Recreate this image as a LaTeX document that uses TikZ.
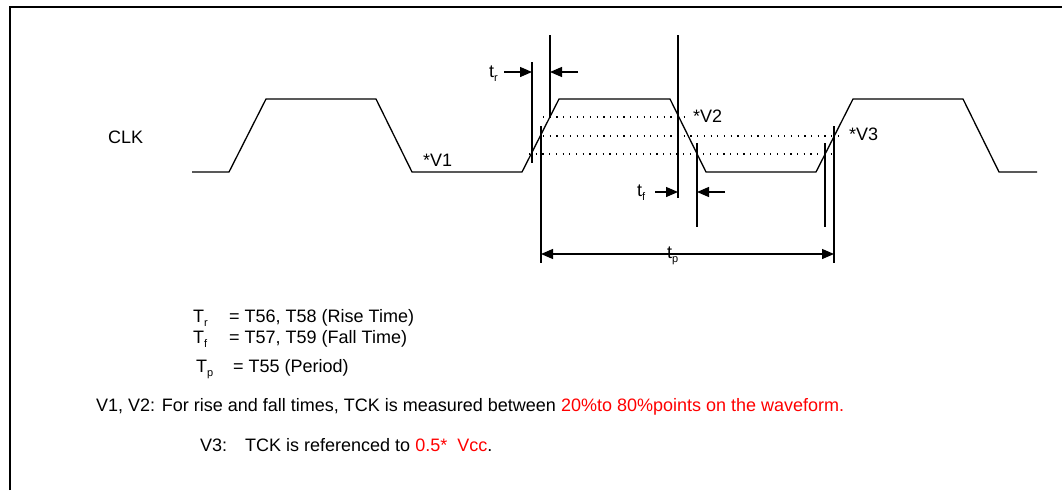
\documentclass[tikz,border=0pt]{standalone}
\usepackage{fontspec}
\setmainfont{Liberation Sans}
\usetikzlibrary{arrows.meta,positioning,calc}
\definecolor{tdRed}{HTML}{FF0000}
\newcommand{\lowsub}[1]{\raisebox{-4pt}{\fontsize{11}{11}\selectfont #1}}
\tikzset{
  wave/.style={line width=1.3pt, line join=miter},
  lvl/.style={line width=1.2pt, dash pattern=on 1.2pt off 5.5pt},
  vln/.style={line width=1.2pt},
  dim/.style={-{Triangle[length=12pt,width=10pt]}, line width=1.3pt},
  dimd/.style={{Triangle[length=12pt,width=10pt]}-{Triangle[length=12pt,width=10pt]}, line width=1.3pt},
  lbl/.style={font=\fontsize{18}{20}\selectfont, inner sep=0pt, anchor=base west},
}

\begin{document}
\begin{tikzpicture}[x=1pt, y=-1pt]
\useasboundingbox (0,0) rectangle (1062,490);
% frame
\draw[line width=2pt] (10.2,490) -- (10.2,6.5) -- (1062,6.5);

% clock
\node[lbl] (clk) at (108,143) {CLK};
\draw[wave] (192,172) -- (229,172) -- (266,99) -- (376,99) -- (412,172) -- (522,172)
  -- (559,99) -- (670,99) -- (706,172) -- (816,172) -- (853,99) -- (963,99)
  -- (999,172) -- (1037,172);

% levels 80/50/20
\draw[lvl] (543,117) -- (690,117);
\draw[lvl] (543,136) -- (842,136);
\draw[lvl] (529,154) -- (835,154);
\node[lbl] (v1) at (423,166) {*V1};
\node[lbl] (v2) at (693,122) {*V2};
\node[lbl] (v3) at (849,140) {*V3};

% marker lines
\coordinate (r20t) at (532,62);  \coordinate (r20b) at (532,163);
\coordinate (r80t) at (550,35);  \coordinate (r80b) at (550,117);
\coordinate (p1t) at (541,126);  \coordinate (p1b) at (541,263);
\coordinate (f80t) at (678,35);  \coordinate (f80b) at (678,198);
\coordinate (f20t) at (697,143); \coordinate (f20b) at (697,227);
\coordinate (n20t) at (825,143); \coordinate (n20b) at (825,227);
\coordinate (p2t) at (834,126);  \coordinate (p2b) at (834,263);
\foreach \a in {r20,r80,p1,f80,f20,n20,p2}
  \draw[vln] (\a t) -- (\a b);

% dimension arrows
\coordinate (trA) at (504,72); \coordinate (trB) at (578,72);
\coordinate (tfA) at (655,192); \coordinate (tfB) at (725,192);
\coordinate (tpy) at (0,254);
\draw[dim] (trA) -- (trA -| r20t);
\draw[dim] (trB) -- (trB -| r80t);
\draw[dim] (tfA) -- (tfA -| f80t);
\draw[dim] (tfB) -- (tfB -| f20t);
\draw[dimd] (p1t |- tpy) -- (p2t |- tpy);
\node[lbl] (trlab) at (489,77) {t\lowsub{r}};
\node[lbl] (tflab) at (637,196) {t\lowsub{f}};
\node[lbl] (tplab) at (667,258) {t\lowsub{p}};

% legend
\node[lbl] (Tr) at (193,322) {T\lowsub{r}};
\node[lbl] (Trv) at (229,322) {= T56, T58 (Rise Time)};
\node[lbl] (Tf) at (193,343) {T\lowsub{f}};
\node[lbl] (Tfv) at (229,343) {= T57, T59 (Fall Time)};
\node[lbl] (Tp) at (196,372) {T\lowsub{p}};
\node[lbl] (Tpv) at (233,372) {= T55 (Period)};
\node[lbl] (n12) at (96,411) {V1, V2: For rise and fall times, TCK is measured between \textcolor{tdRed}{20\%to 80\%points on the waveform.}};
\node[lbl] (n3) at (200,451) {V3:};
\node[lbl] (n3t) at (245,451) {TCK is referenced to \textcolor{tdRed}{0.5*\ \ Vcc}.};
\end{tikzpicture}
\end{document}
